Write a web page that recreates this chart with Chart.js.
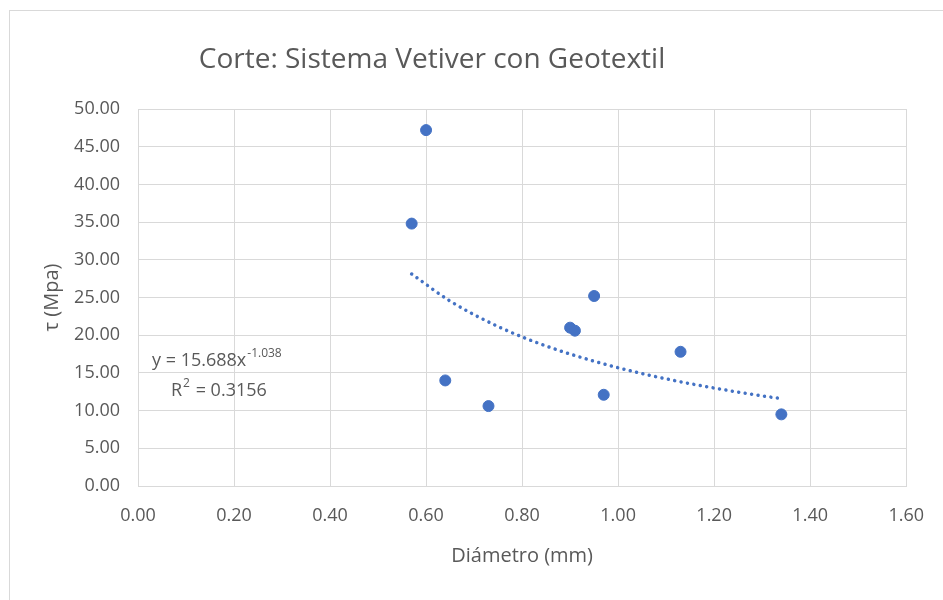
<!DOCTYPE html>
<html lang="es">
<head>
<meta charset="utf-8">
<title>Corte: Sistema Vetiver con Geotextil</title>
<script src="https://cdn.jsdelivr.net/npm/chart.js@4.4.1/dist/chart.umd.min.js"></script>
<style>
  html, body { margin: 0; padding: 0; background: #ffffff; overflow: hidden; }
  #marco { position: absolute; left: 9px; top: 10px; width: 1000px; height: 1000px;
           border-left: 1px solid #d9d9d9; border-top: 1px solid #d9d9d9; }
  #grafico { position: absolute; left: 0; top: 0; }
</style>
</head>
<body>
<div id="marco"></div>
<canvas id="grafico" width="943" height="600"></canvas>
<script>
// Datos medidos: diámetro (mm) y esfuerzo cortante (MPa)
const diametros = [0.57, 0.60, 0.64, 0.73, 0.90, 0.91, 0.95, 0.97, 1.13, 1.34];
const esfuerzos = [34.8, 47.2, 14.0, 10.6, 21.0, 20.6, 25.2, 12.1, 17.8, 9.5];

// Línea de tendencia potencial
const tendenciaX = [0.57, 0.65, 0.75, 0.85, 0.95, 1.05, 1.15, 1.25, 1.34];
const tendenciaY = [28.12, 24.53, 21.15, 18.57, 16.55, 14.91, 13.57, 12.45, 11.58];

// Etiquetas de ejes
const ticksX = [0, 0.2, 0.4, 0.6, 0.8, 1.0, 1.2, 1.4, 1.6];
const ticksY = [0, 5, 10, 15, 20, 25, 30, 35, 40, 45, 50];

const azul = "#4472c4";
const gris = "#595959";
const rejilla = "#d9d9d9";

const puntos = diametros.map((d, i) => ({ x: d, y: esfuerzos[i] }));
const tendencia = tendenciaX.map((d, i) => ({ x: d, y: tendenciaY[i] }));

// Título y ecuación de la tendencia
const textos = {
  id: "textos",
  afterDraw(chart) {
    const ctx = chart.ctx;
    ctx.save();
    ctx.fillStyle = gris;
    ctx.textBaseline = "alphabetic";

    ctx.font = "28px 'Open Sans'";
    ctx.textAlign = "center";
    ctx.fillText("Corte: Sistema Vetiver con Geotextil", 432, 68);

    ctx.textAlign = "left";
    ctx.font = "18px 'Open Sans'";
    const base = "y = 15.688x";
    ctx.fillText(base, 152, 366);
    const w = ctx.measureText(base).width;
    ctx.font = "12px 'Open Sans'";
    ctx.fillText("-1.038", 152 + w + 1, 357);

    ctx.font = "18px 'Open Sans'";
    ctx.fillText("R", 171, 396);
    const wr = ctx.measureText("R").width;
    ctx.font = "12px 'Open Sans'";
    ctx.fillText("2", 171 + wr + 1, 387);
    const w2 = ctx.measureText("2").width;
    ctx.font = "18px 'Open Sans'";
    ctx.fillText(" = 0.3156", 171 + wr + w2 + 2, 396);
    ctx.restore();
  }
};

new Chart(document.getElementById("grafico"), {
  type: "scatter",
  data: {
    datasets: [
      {
        label: "τ",
        data: puntos,
        backgroundColor: azul,
        borderColor: azul,
        pointRadius: 5.5,
        pointHoverRadius: 5.5,
        order: 1
      },
      {
        label: "Tendencia",
        type: "line",
        data: tendencia,
        showLine: true,
        fill: false,
        borderColor: azul,
        borderWidth: 3.5,
        borderCapStyle: "round",
        borderDash: [0.01, 6.5],
        pointRadius: 0,
        cubicInterpolationMode: "monotone",
        order: 2
      }
    ]
  },
  plugins: [textos],
  options: {
    responsive: false,
    animation: false,
    events: [],
    layout: { padding: { top: 109, right: 35, bottom: 0, left: 0 } },
    plugins: {
      legend: { display: false },
      tooltip: { enabled: false },
      title: { display: false }
    },
    scales: {
      x: {
        type: "linear",
        min: 0,
        max: 1.6,
        afterBuildTicks(scale) { scale.ticks = ticksX.map(v => ({ value: v })); },
        afterFit(scale) { scale.height = 114; },
        border: { color: rejilla },
        grid: { color: rejilla, drawTicks: false },
        ticks: {
          color: gris,
          padding: 19,
          font: { family: "'Open Sans'", size: 18 },
          callback: v => v.toFixed(2)
        },
        title: {
          display: true,
          text: "Diámetro (mm)",
          color: gris,
          font: { family: "'Open Sans'", size: 20 },
          padding: { top: 0, bottom: 32 }
        }
      },
      y: {
        type: "linear",
        min: 0,
        max: 50,
        afterBuildTicks(scale) { scale.ticks = ticksY.map(v => ({ value: v })); },
        afterFit(scale) { scale.width = 138; },
        border: { display: false },
        grid: { color: rejilla, drawTicks: false },
        ticks: {
          color: gris,
          padding: 18,
          font: { family: "'Open Sans'", size: 18 },
          callback: v => v.toFixed(2)
        },
        title: {
          display: true,
          text: "τ (Mpa)",
          color: gris,
          font: { family: "'Open Sans'", size: 20 },
          padding: { top: 40, bottom: 0 }
        }
      }
    }
  }
});
</script>
</body>
</html>
